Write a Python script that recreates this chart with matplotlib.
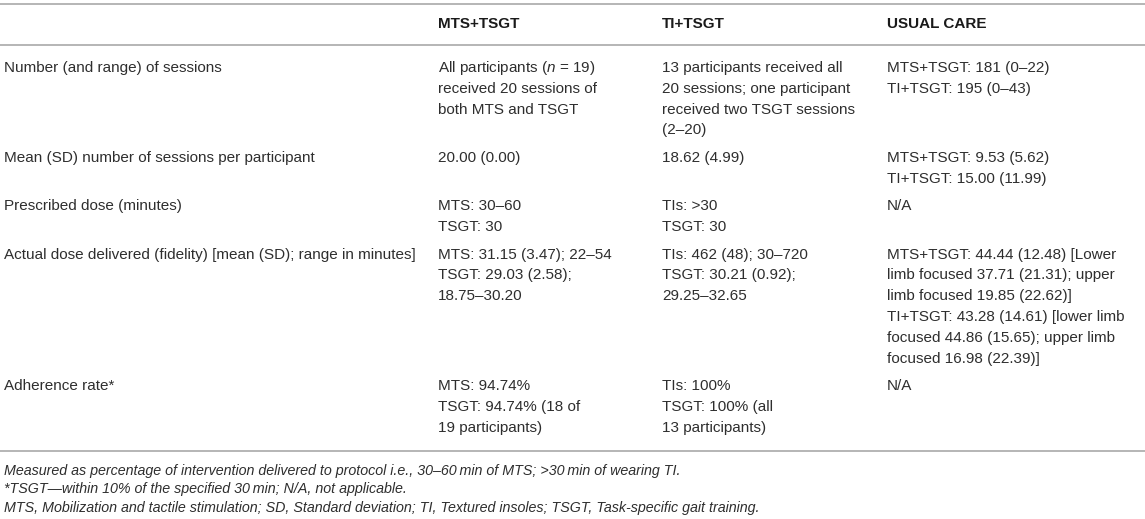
import matplotlib.pyplot as plt

# Table content, one list of text lines per cell
headers = ["", "MTS+TSGT", "TI+TSGT", "USUAL CARE"]

row_labels = [
    "Number (and range) of sessions",
    "Mean (SD) number of sessions per participant",
    "Prescribed dose (minutes)",
    "Actual dose delivered (fidelity) [mean (SD); range in minutes]",
    "Adherence rate*",
]

mts_tsgt = [
    ["All participants ($n$ = 19)", "received 20 sessions of", "both MTS and TSGT"],
    ["20.00 (0.00)"],
    ["MTS: 30\u201360", "TSGT: 30"],
    ["MTS: 31.15 (3.47); 22\u201354", "TSGT: 29.03 (2.58);", "18.75\u201330.20"],
    ["MTS: 94.74%", "TSGT: 94.74% (18 of", "19 participants)"],
]

ti_tsgt = [
    ["13 participants received all", "20 sessions; one participant",
     "received two TSGT sessions", "(2\u201320)"],
    ["18.62 (4.99)"],
    ["TIs: >30", "TSGT: 30"],
    ["TIs: 462 (48); 30\u2013720", "TSGT: 30.21 (0.92);", "29.25\u201332.65"],
    ["TIs: 100%", "TSGT: 100% (all", "13 participants)"],
]

usual_care = [
    ["MTS+TSGT: 181 (0\u201322)", "TI+TSGT: 195 (0\u201343)"],
    ["MTS+TSGT: 9.53 (5.62)", "TI+TSGT: 15.00 (11.99)"],
    ["N/A"],
    ["MTS+TSGT: 44.44 (12.48) [Lower", "limb focused 37.71 (21.31); upper",
     "limb focused 19.85 (22.62)]", "TI+TSGT: 43.28 (14.61) [lower limb",
     "focused 44.86 (15.65); upper limb", "focused 16.98 (22.39)]"],
    ["N/A"],
]

footnotes = [
    "Measured as percentage of intervention delivered to protocol i.e., "
    "30\u201360\u2009min of MTS; >30\u2009min of wearing TI.",
    "*TSGT\u2014within 10% of the specified 30\u2009min; N/A, not applicable.",
    "MTS, Mobilization and tactile stimulation; SD, Standard deviation; "
    "TI, Textured insoles; TSGT, Task-specific gait training.",
]

plt.rcParams['font.family'] = ['Liberation Sans', 'DejaVu Sans']
plt.rcParams['mathtext.fontset'] = 'custom'
plt.rcParams['mathtext.rm'] = 'Liberation Sans'
plt.rcParams['mathtext.it'] = 'Liberation Sans:italic'

W, H = 1145, 519
fig = plt.figure(figsize=(W / 100, H / 100), dpi=100)
ax = fig.add_axes([0, 0, 1, 1])
ax.set_xlim(0, W)
ax.set_ylim(H, 0)
ax.axis('off')

col_x = [4, 438, 662, 887]
line_h = 20.8
row_gap = 27.5
body_size = 11.0
text_col = '#2e2e2e'
rule_col = '#b5b5b5'

# rules
for y in [4, 45, 451]:
    ax.axhline(y, color=rule_col, lw=1.4)

# header
for x, h in zip(col_x, headers):
    ax.text(x, 24, h, fontsize=body_size, fontweight='bold', color='#1a1a1a',
            va='center', ha='left')

# body rows
y = 68
for i, label in enumerate(row_labels):
    cells = [[label], mts_tsgt[i], ti_tsgt[i], usual_care[i]]
    for x, lines in zip(col_x, cells):
        for k, s in enumerate(lines):
            ax.text(x, y + k * line_h, s, fontsize=body_size, color=text_col,
                    va='center', ha='left')
    n = max(len(c) for c in cells)
    y += (n - 1) * line_h + row_gap

# footnotes
for k, s in enumerate(footnotes):
    ax.text(4, 471 + k * 18.5, s, fontsize=10.3, fontstyle='italic',
            color=text_col, va='center', ha='left')

fig.savefig('out.png', dpi=100)
